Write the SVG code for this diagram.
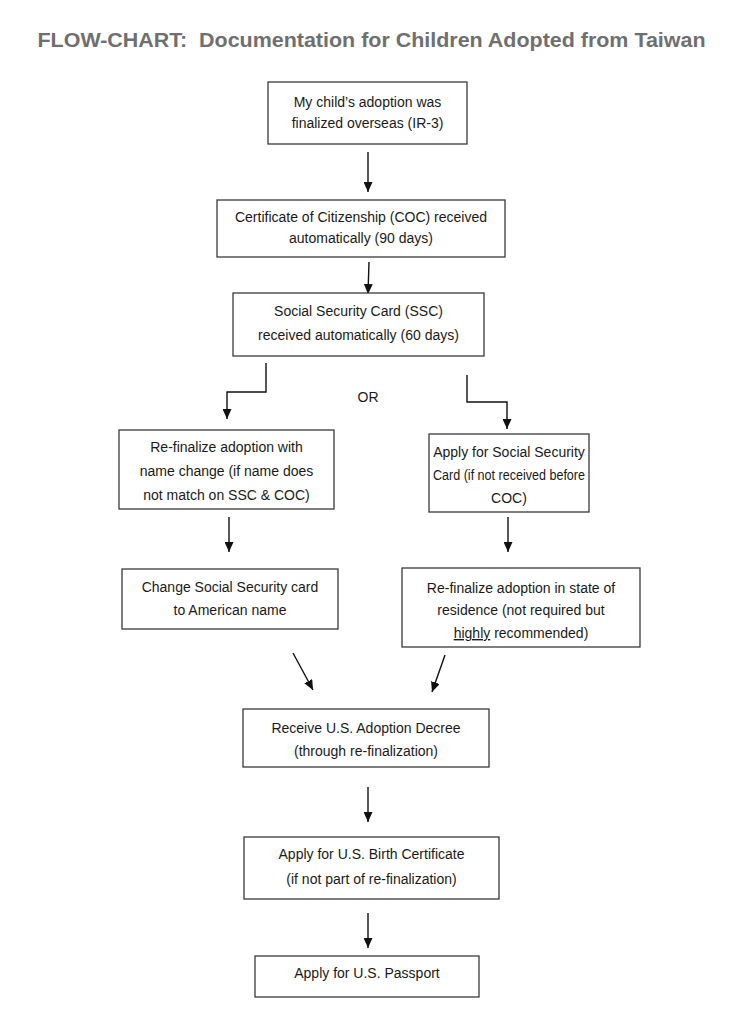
<svg xmlns="http://www.w3.org/2000/svg" width="741" height="1024" viewBox="0 0 741 1024">
<defs>
<style>
.box{fill:#fff;stroke:#3a3a3a;stroke-width:1.3}
.t{font-family:"Liberation Sans",Arial,sans-serif;font-size:14px;fill:#1a1a1a;text-anchor:middle}
.title{font-family:"Liberation Sans",Arial,sans-serif;font-size:21px;font-weight:bold;fill:#6f6f6f;text-anchor:middle}
.c{fill:none;stroke:#111;stroke-width:1.4}
.ca{fill:none;stroke:#111;stroke-width:1.4;marker-end:url(#ah)}
</style>
<marker id="ah" markerUnits="userSpaceOnUse" markerWidth="10" markerHeight="9" refX="10" refY="4.5" orient="auto">
<path d="M0,0 L10,4.5 L0,9 z" fill="#111"/>
</marker>
</defs>
<rect width="741" height="1024" fill="#fff"/>
<text class="title" x="371.5" y="47" textLength="668" lengthAdjust="spacingAndGlyphs">FLOW-CHART:&#160; Documentation for Children Adopted from Taiwan</text>

<g id="connectors">
<line class="ca" x1="368" y1="152" x2="368" y2="192"/>
<line class="ca" x1="369" y1="262" x2="368" y2="294"/>
<polyline class="ca" points="266,363 266,392 227,392 227,419"/>
<polyline class="ca" points="467,375 467,402 507,402 507,429"/>
<line class="ca" x1="229" y1="517" x2="229" y2="552"/>
<line class="ca" x1="508" y1="517" x2="508" y2="552"/>
<line class="ca" x1="293" y1="653" x2="313" y2="690"/>
<line class="ca" x1="445" y1="655" x2="432" y2="692"/>
<line class="ca" x1="368" y1="787" x2="368" y2="822"/>
<line class="ca" x1="368" y1="913" x2="368" y2="948"/>
</g>

<g id="n1"><rect class="box" x="268" y="82" width="199" height="62"/>
<text class="t" x="367.5" y="107">My child’s adoption was</text>
<text class="t" x="367.5" y="128">finalized overseas (IR-3)</text></g>

<g id="n2"><rect class="box" x="217" y="200" width="288" height="57"/>
<text class="t" x="361" y="222">Certificate of Citizenship (COC) received</text>
<text class="t" x="361" y="243">automatically (90 days)</text></g>

<g id="n3"><rect class="box" x="233" y="293" width="251" height="63"/>
<text class="t" x="358.5" y="316">Social Security Card (SSC)</text>
<text class="t" x="358.5" y="340">received automatically (60 days)</text></g>

<g id="or"><text class="t" x="368" y="402">OR</text></g>

<g id="n4"><rect class="box" x="119" y="430" width="215" height="79"/>
<text class="t" x="226.5" y="452">Re-finalize adoption with</text>
<text class="t" x="226.5" y="476">name change (if name does</text>
<text class="t" x="226.5" y="500">not match on SSC &amp; COC)</text></g>

<g id="n5"><rect class="box" x="429" y="434" width="160" height="78"/>
<text class="t" x="509" y="457">Apply for Social Security</text>
<text class="t" x="509" y="480" textLength="152" lengthAdjust="spacingAndGlyphs">Card (if not received before</text>
<text class="t" x="509" y="503">COC)</text></g>

<g id="n6"><rect class="box" x="122" y="569" width="216" height="60"/>
<text class="t" x="230" y="592">Change Social Security card</text>
<text class="t" x="230" y="615">to American name</text></g>

<g id="n7"><rect class="box" x="402" y="568" width="238" height="79"/>
<text class="t" x="521" y="593">Re-finalize adoption in state of</text>
<text class="t" x="521" y="615">residence (not required but</text>
<text class="t" x="521" y="638"><tspan text-decoration="underline">highly</tspan> recommended)</text></g>

<g id="n8"><rect class="box" x="243" y="709" width="246" height="58"/>
<text class="t" x="366" y="733">Receive U.S. Adoption Decree</text>
<text class="t" x="366" y="756">(through re-finalization)</text></g>

<g id="n9"><rect class="box" x="244" y="837" width="255" height="62"/>
<text class="t" x="371.5" y="859">Apply for U.S. Birth Certificate</text>
<text class="t" x="371.5" y="884">(if not part of re-finalization)</text></g>

<g id="n10"><rect class="box" x="255" y="956" width="224" height="41"/>
<text class="t" x="367" y="978">Apply for U.S. Passport</text></g>
</svg>
